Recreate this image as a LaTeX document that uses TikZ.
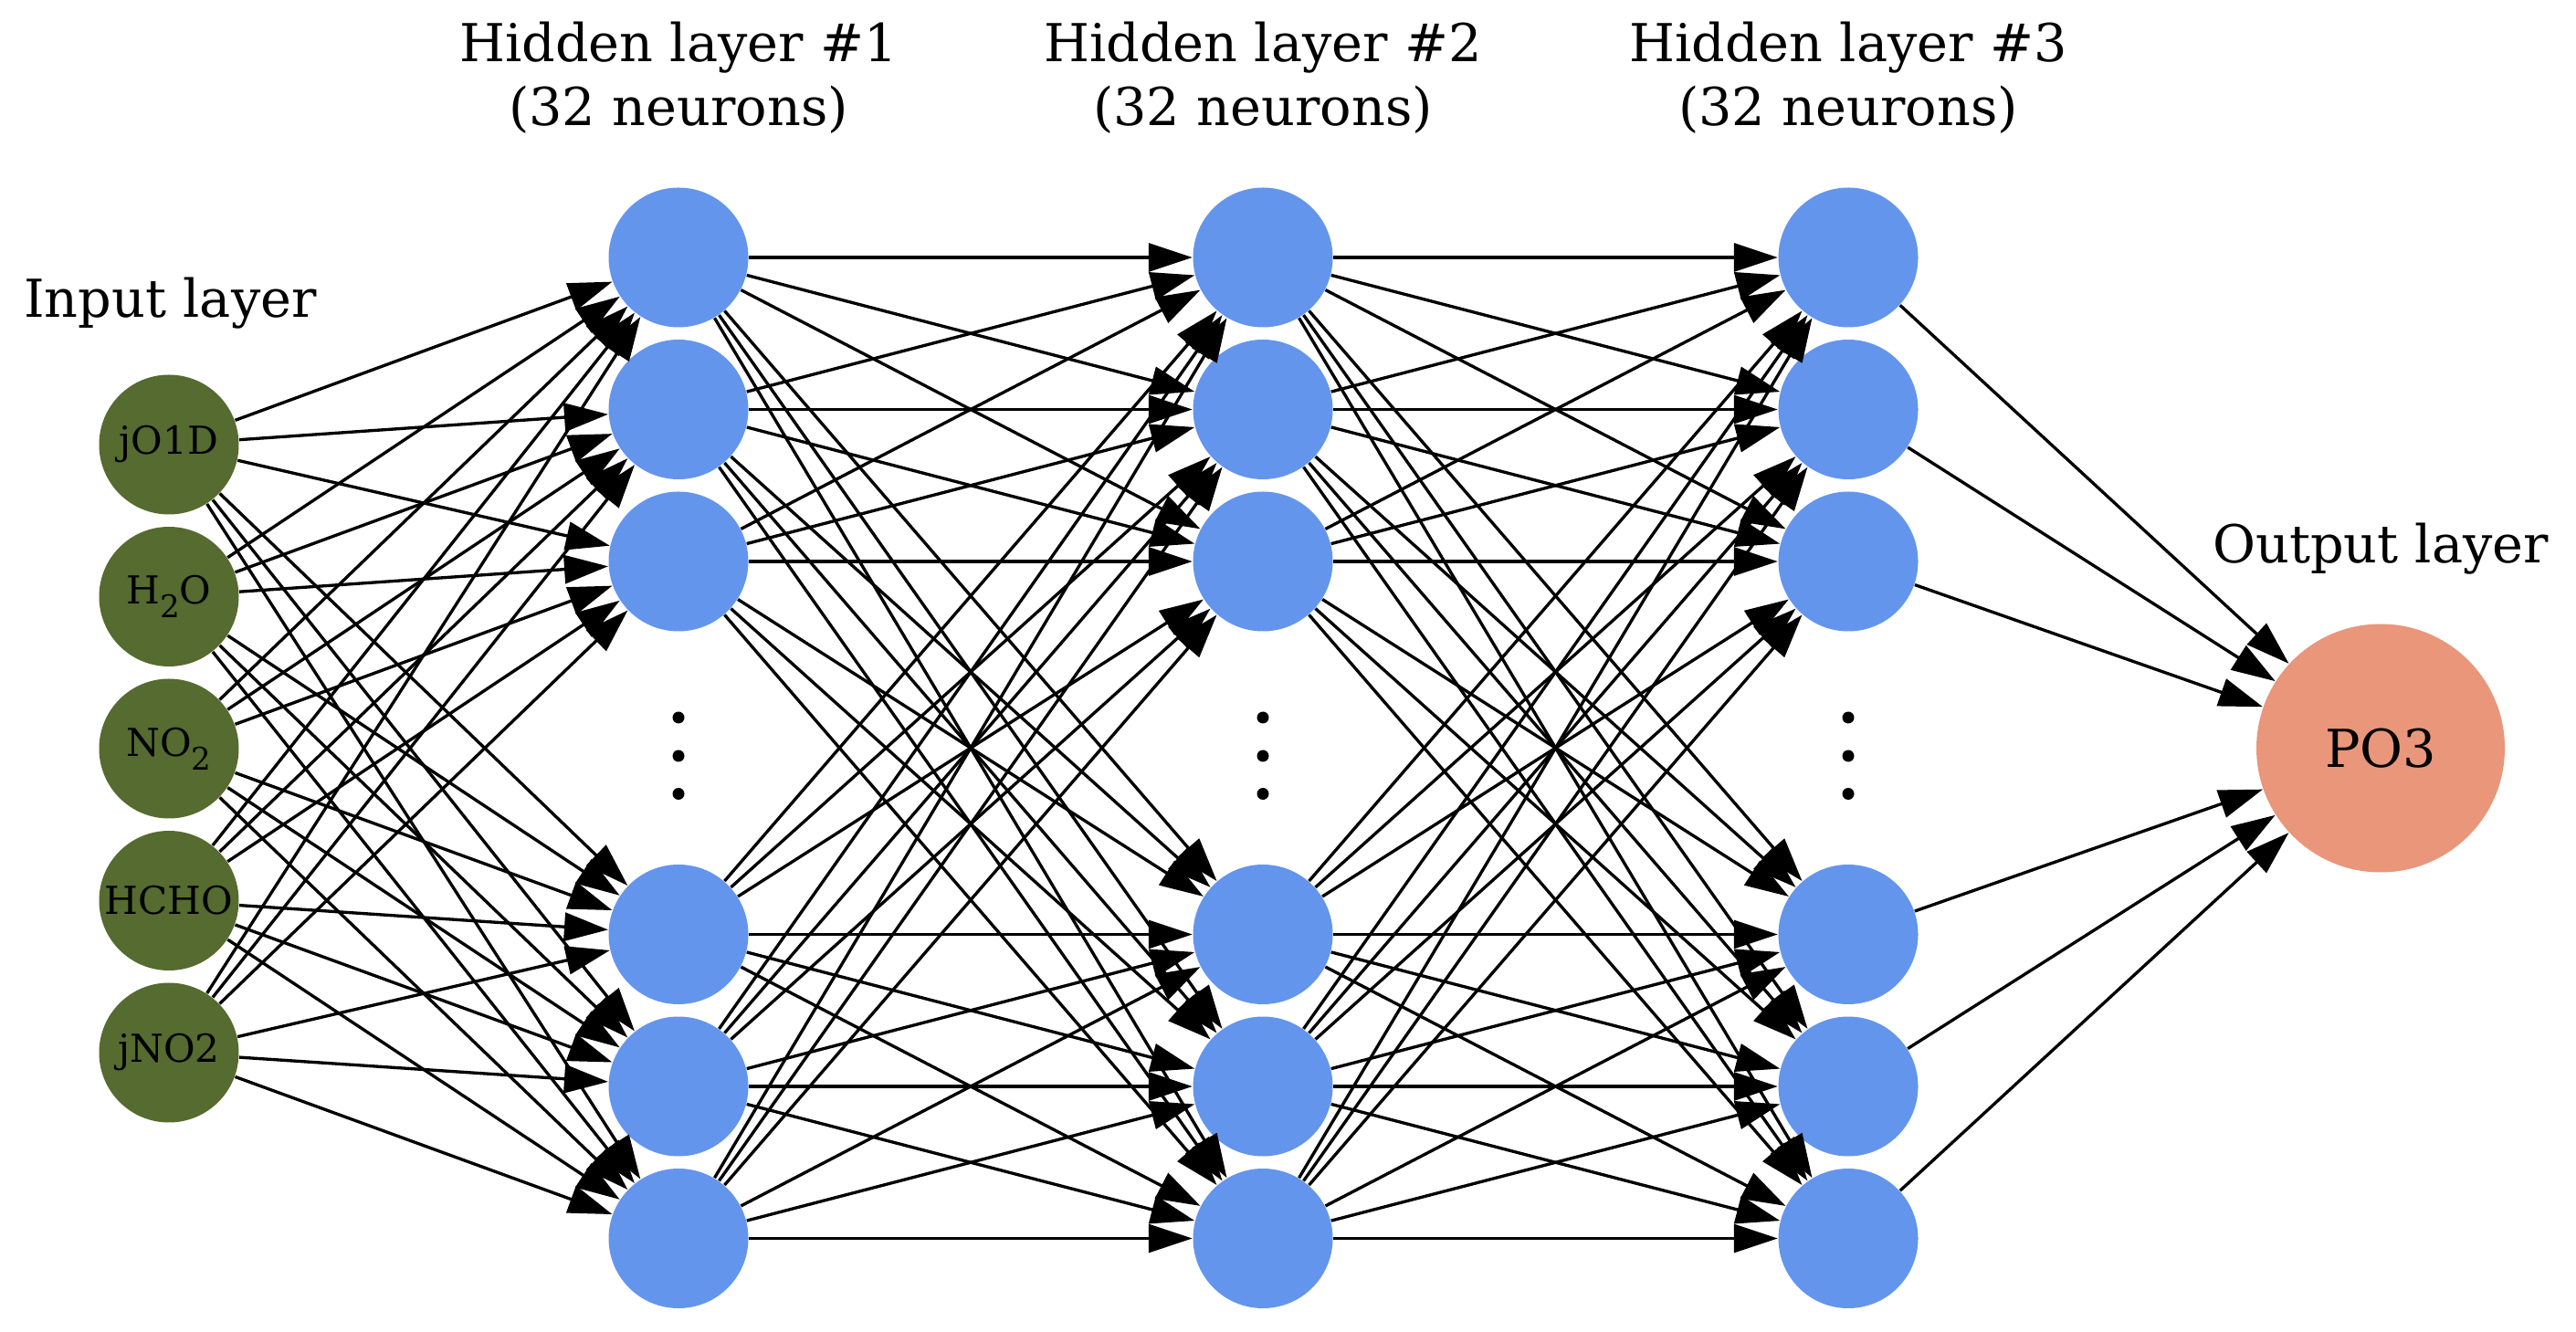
\documentclass[tikz,border=0pt]{standalone}
\usepackage{fontspec}
\setmainfont{DejaVu Serif}
\usepackage{xcolor}
\usetikzlibrary{arrows.meta}

\definecolor{inputgreen}{HTML}{556B2F}
\definecolor{hiddenblue}{HTML}{6495ED}
\definecolor{outputsalmon}{HTML}{E9967A}
\newcommand{\chemsub}[1]{\raisebox{-4.3pt}{\fontsize{9.7}{11}\selectfont #1}}

\begin{document}
\begin{tikzpicture}[
  neuron/.style={circle, minimum size=1.53cm, inner sep=0pt},
  innode/.style={neuron, fill=inputgreen, font=\fontsize{12}{14}\selectfont},
  hidnode/.style={neuron, fill=hiddenblue},
  outnode/.style={circle, minimum size=2.72cm, inner sep=0pt, fill=outputsalmon, font=\fontsize{16.3}{20}\selectfont},
  layertitle/.style={font=\fontsize{16.3}{20.1}\selectfont, align=center, inner sep=0pt},
  conn/.style={line width=0.95pt, -{Triangle[length=0.48cm, width=0.31cm]}}
]
  \useasboundingbox (0,0) rectangle (28.21,-14.59);

  % layers
  \foreach \lab [count=\i] in {jO1D, H\chemsub{2}O, NO\chemsub{2}, HCHO, jNO2}
    \node[innode] (in\i) at (1.85,{-4.87-1.665*(\i-1)}) {\lab};

  \foreach \l/\x in {1/7.43, 2/13.83, 3/20.24} {
    \foreach \y [count=\j] in {2.82, 4.485, 6.15, 10.235, 11.9, 13.565}
      \node[hidnode] (h\l-\j) at (\x,-\y) {};
    \foreach \y in {7.86, 8.28, 8.695}
      \fill (\x,-\y) circle (0.065);
    \node[layertitle, anchor=north] (title\l) at (\x,-0.23) {Hidden layer \#\l\\(32 neurons)};
  }

  \node[outnode] (out) at (26.07,-8.195) {PO3};

  \node[layertitle, anchor=base] (intitle) at (1.865,-3.48) {Input layer};
  \node[layertitle, anchor=base] (outtitle) at (26.07,-6.17) {Output layer};

  % connections
  \foreach \i in {1,...,5}
    \foreach \j in {1,...,6}
      \draw[conn] (in\i) -- (h1-\j);
  \foreach \l/\m in {1/2, 2/3}
    \foreach \i in {1,...,6}
      \foreach \j in {1,...,6}
        \draw[conn] (h\l-\i) -- (h\m-\j);
  \foreach \i in {1,...,6}
    \draw[conn] (h3-\i) -- (out);
\end{tikzpicture}
\end{document}
